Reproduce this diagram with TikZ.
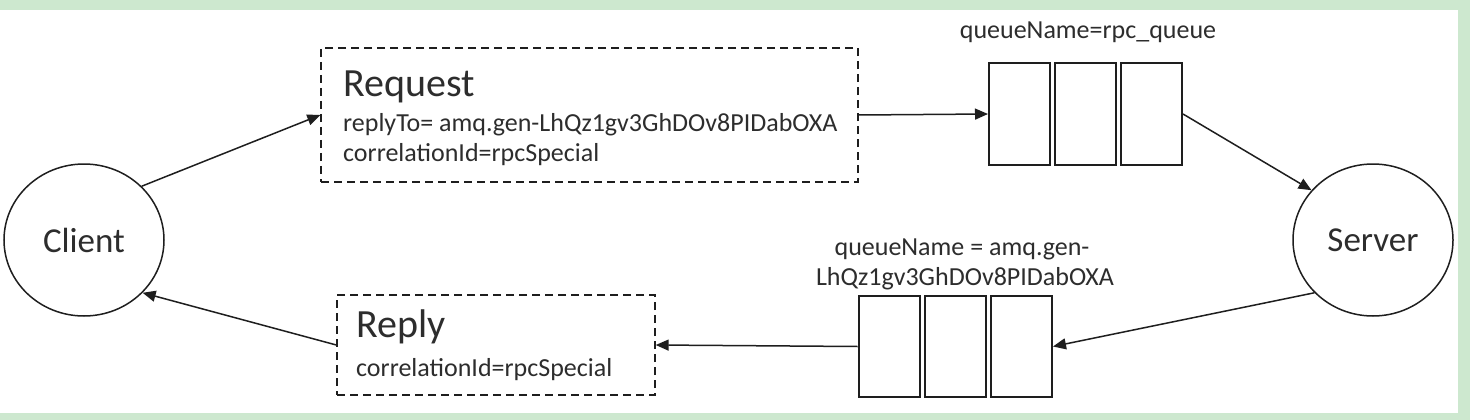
\documentclass[tikz,border=0pt]{standalone}
\usepackage{fontspec}
\setmainfont{Carlito}
\usetikzlibrary{arrows.meta,shapes.geometric}
\definecolor{bggreen}{RGB}{205,232,207}
\definecolor{ink}{RGB}{30,30,30}
\definecolor{txt}{RGB}{45,45,45}
\begin{document}
\begin{tikzpicture}[x=1pt,y=-1pt,
  line/.style={draw=ink, line width=1.5pt},
  arr/.style={line, -{Triangle[length=13pt,width=11pt]}},
  msgbox/.style={draw=ink, line width=1.4pt, dash pattern=on 8pt off 5pt, inner sep=0pt},
  cell/.style={draw=ink, line width=2pt, minimum width=61pt, minimum height=101pt, inner sep=0pt},
  actor/.style={ellipse, draw=ink, line width=1.5pt, minimum width=160pt, minimum height=152pt, inner sep=0pt, text=txt, font=\fontsize{35}{40}\selectfont},
  big/.style={font=\fontsize{40}{44}\selectfont, text=txt, inner sep=0pt, anchor=base west},
  small/.style={font=\fontsize{26}{30}\selectfont, text=txt, inner sep=0pt},
]
\fill[bggreen] (0,0) rectangle (1470,420);
\fill[white] (0,10) rectangle (1458,413);
\useasboundingbox (0,0) rectangle (1470,420);

% actors
\node[actor] (client) at (84,240) {Client};
\node[actor] (server) at (1373,240) {Server};

% request message
\node[msgbox, minimum width=537pt, minimum height=134pt] (req) at (589.5,115) {};
\node[big] (reqt) at (343,96) {Request};
\node[small, anchor=base west] (reqa) at (343,131) {replyTo= amq.gen-LhQz1gv3GhDOv8PIDabOXA};
\node[small, anchor=base west] (reqb) at (343,161) {correlationId=rpcSpecial};

% request queue
\node[cell] (q1a) at (1019.5,114) {};
\node[cell] (q1b) at (1085.5,114) {};
\node[cell] (q1c) at (1151.5,114) {};
\node[small, anchor=base] (q1l) at (1088,39) {queueName=rpc\_queue};

% reply queue
\node[cell] (q2a) at (889,346.5) {};
\node[cell] (q2b) at (955,346.5) {};
\node[cell] (q2c) at (1021.5,346.5) {};
\node[small, anchor=base] (q2l1) at (962,255) {queueName = amq.gen-};
\node[small, anchor=base] (q2l2) at (965,285) {LhQz1gv3GhDOv8PIDabOXA};

% reply message
\node[msgbox, minimum width=318pt, minimum height=100pt] (rep) at (496,345) {};
\node[big] (rept) at (356,337) {Reply};
\node[small, anchor=base west] (repa) at (356,376) {correlationId=rpcSpecial};

% connectors
\draw[arr] (client.43) -- (req.west);
\draw[arr] (req.east) -- (q1a.west);
\draw[arr] (q1c.east) -- (server.141);
\draw[arr] (server.222) -- (q2c.east);
\draw[arr] (q2a.west) -- (rep.east);
\draw[arr] (rep.west) -- (client.318);
\end{tikzpicture}
\end{document}
